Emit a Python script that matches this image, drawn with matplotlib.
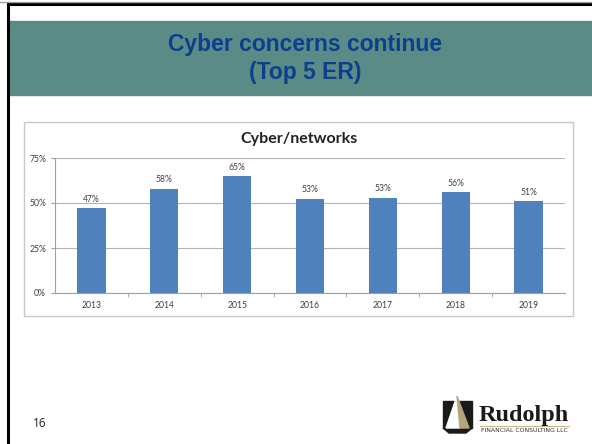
import matplotlib
matplotlib.use("Agg")
import matplotlib.pyplot as plt
from matplotlib.patches import Rectangle, Polygon

# data
years = ["2013", "2014", "2015", "2016", "2017", "2018", "2019"]
pct = [0.47, 0.58, 0.65, 0.525, 0.53, 0.56, 0.51]
pct_labels = ["47%", "58%", "65%", "53%", "53%", "56%", "51%"]
y_ticks = [0, 0.25, 0.50, 0.75]
y_tick_labels = ["0%", "25%", "50%", "75%"]

W, H = 592, 444
fig = plt.figure(figsize=(W / 100, H / 100), dpi=100)

# slide background in pixel coords
bg = fig.add_axes([0, 0, 1, 1])
bg.set_xlim(0, W)
bg.set_ylim(H, 0)
bg.axis("off")

# slide frame
bg.plot([7.5, 7.5], [4.5, H], color="black", lw=2.2)
bg.plot([7.5, W], [4.5, 4.5], color="black", lw=2.2)
bg.plot([0, W], [2, 2], color="#a0a0a0", lw=1)

# title band
bg.add_patch(Rectangle((8.5, 21), W - 8.5, 74, color="#5b8b86", zorder=1))
bg.text(305, 44, "Cyber concerns continue", ha="center", va="center",
        fontsize=16.5, fontweight="bold", color="#0d3f8f", family="Liberation Sans")
bg.text(305, 72, "(Top 5 ER)", ha="center", va="center",
        fontsize=16.5, fontweight="bold", color="#0d3f8f", family="Liberation Sans")

# chart box
bg.add_patch(Rectangle((23.5, 122), 549, 194, fill=False, ec="#c8c8c8", lw=1))
bg.text(299, 139, "Cyber/networks", ha="center", va="center",
        fontsize=11.5, fontweight="bold", color="#222222", family="Lato")

# page number
bg.text(33, 423, "16", ha="left", va="center", fontsize=8.5, color="#222222",
        family="Open Sans")

# logo
bg.add_patch(Rectangle((443, 401), 29, 27, color="#1a1a1a", zorder=2))
bg.add_patch(Polygon([[457, 396], [446, 428], [460, 428]],
                     closed=True, color="white", zorder=3))
bg.add_patch(Polygon([[457, 396], [460, 428], [469, 428]],
                     closed=True, color="#b5a57a", zorder=3))
bg.add_patch(Polygon([[443, 428], [472, 428], [466, 433], [449, 433]],
                     closed=True, color="#1a1a1a", zorder=2))
bg.text(479, 421, "Rudolph", ha="left", va="baseline", fontsize=17.5,
        fontweight="bold", color="#1a1a1a", family="Liberation Serif")
bg.plot([480, 569], [425.5, 425.5], color="#c9b98a", lw=0.8)
bg.text(481, 430.5, "FINANCIAL CONSULTING LLC", ha="left", va="center",
        fontsize=4.4, color="#333333", family="DejaVu Sans")

# chart axes
x0, x1, ytop, ybot = 55, 565, 158, 293
ax = fig.add_axes([x0 / W, (H - ybot) / H, (x1 - x0) / W, (ybot - ytop) / H])
xs = list(range(len(years)))
ax.bar(xs, pct, width=0.39, color="#4f81bd", zorder=3)
ax.set_xlim(-0.5, len(years) - 0.5)
ax.set_ylim(0, 0.75)
ax.set_yticks(y_ticks)
ax.set_yticklabels(y_tick_labels)
ax.set_xticks(xs)
ax.set_xticklabels(years)
ax.grid(axis="y", color="#b4b4b4", lw=0.8, zorder=0)
for s in ["top", "right"]:
    ax.spines[s].set_visible(False)
ax.spines["left"].set_color("#a0a0a0")
ax.spines["bottom"].set_color("#a0a0a0")
ax.tick_params(axis="both", labelsize=6.2, colors="#404040", length=3,
               color="#a0a0a0")
ax.tick_params(axis="x", length=0, pad=6)
for lab in ax.get_xticklabels() + ax.get_yticklabels():
    lab.set_family("Lato")
for i, (v, t) in enumerate(zip(pct, pct_labels)):
    ax.text(i, v + 0.025, t, ha="center", va="bottom", fontsize=6.2,
            color="#404040", family="Lato")
# minor tick marks between categories
ax.set_xticks([i + 0.5 for i in xs[:-1]], minor=True)
ax.tick_params(axis="x", which="minor", length=3, color="#a0a0a0")
ax.patch.set_alpha(0)

fig.savefig("out.png", dpi=100)
